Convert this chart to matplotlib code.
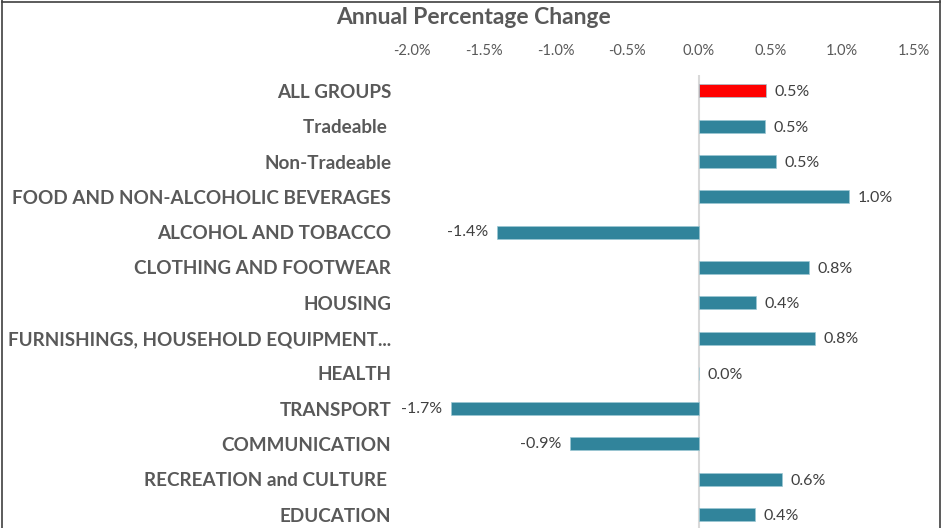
import matplotlib.pyplot as plt
from matplotlib.lines import Line2D

categories = ["ALL GROUPS", "Tradeable ", "Non-Tradeable", "FOOD AND NON-ALCOHOLIC BEVERAGES",
              "ALCOHOL AND TOBACCO", "CLOTHING AND FOOTWEAR", "HOUSING",
              "FURNISHINGS, HOUSEHOLD EQUIPMENT...", "HEALTH", "TRANSPORT",
              "COMMUNICATION", "RECREATION and CULTURE ", "EDUCATION"]
values = [0.47, 0.46, 0.54, 1.05, -1.41, 0.77, 0.40, 0.81, 0.0, -1.73, -0.90, 0.58, 0.39]
labels = ["0.5%", "0.5%", "0.5%", "1.0%", "-1.4%", "0.8%", "0.4%", "0.8%", "0.0%",
          "-1.7%", "-0.9%", "0.6%", "0.4%"]
ticks = [-2.0, -1.5, -1.0, -0.5, 0.0, 0.5, 1.0, 1.5]

plt.rcParams['font.family'] = ['Lato', 'DejaVu Sans']

fig = plt.figure(figsize=(9.42, 5.28), dpi=100)
ax = fig.add_axes([412 / 942, 0, 502 / 942, 1 - 75 / 528])

colors = ["#FF0000"] + ["#31849B"] * (len(values) - 1)
pos = list(range(len(values)))
ax.barh(pos, values, height=0.37, color=colors, edgecolor="#9CC8D4", linewidth=0.5)
ax.set_ylim(12.38, -0.45)
ax.set_xlim(-2.0, 1.5)

ax.axvline(0, color="#D9D9D9", linewidth=1.5, zorder=0)

ax.set_xticks(ticks)
ax.set_xticklabels(["{:.1f}%".format(t) for t in ticks], fontsize=10.5, color="#595959")
ax.xaxis.tick_top()
ax.tick_params(axis="x", length=0, pad=12)
ax.set_yticks(pos)
ax.set_yticklabels(categories, fontsize=13.6, fontweight="bold", color="#595959")
ax.tick_params(axis="y", length=0, pad=15)
for s in ax.spines.values():
    s.set_visible(False)

for p, v, lab in zip(pos, values, labels):
    if v < 0:
        ax.annotate(lab, (v, p), xytext=(-6, 0), textcoords="offset points",
                    ha="right", va="center", fontsize=11.5, color="#404040")
    else:
        ax.annotate(lab, (v, p), xytext=(6, -1), textcoords="offset points",
                    ha="left", va="center", fontsize=11.5, color="#404040")

fig.text(473 / 942, 1 - 17 / 528, "Annual Percentage Change", ha="center", va="center",
         fontsize=16.5, fontweight="bold", color="#595959")

# frame of the chart area
for xs, ys in [([2, 2], [0, 528]), ([2, 940], [526, 526]), ([940, 940], [0, 528])]:
    fig.add_artist(Line2D([x / 942 for x in xs], [y / 528 for y in ys],
                          color="#404040", linewidth=1.2))

plt.savefig("out.png", dpi=100)
